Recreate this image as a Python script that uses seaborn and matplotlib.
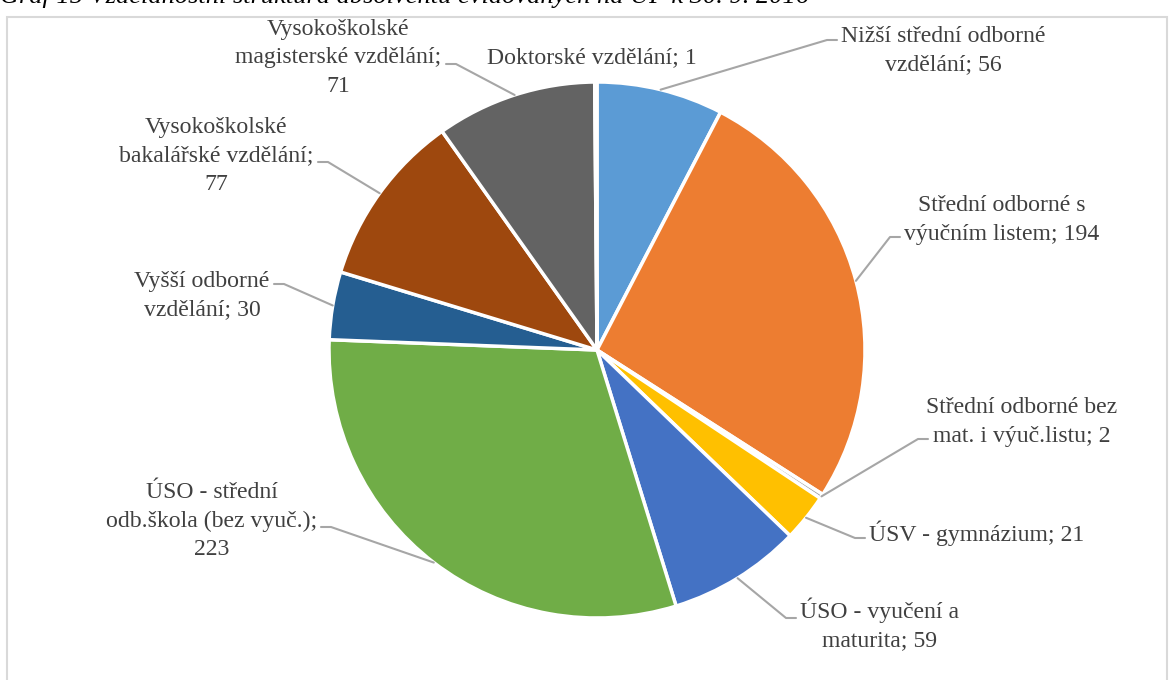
import matplotlib
matplotlib.use("Agg")
import matplotlib.pyplot as plt
import numpy as np
import seaborn as sns

# ---- data ----
categories = [
    "Nižší střední odborné\nvzdělání",
    "Střední odborné s\nvýučním listem",
    "Střední odborné bez\nmat. i výuč.listu",
    "ÚSV - gymnázium",
    "ÚSO - vyučení a\nmaturita",
    "ÚSO - střední\nodb.škola (bez vyuč.);\n",
    "Vyšší odborné\nvzdělání",
    "Vysokoškolské\nbakalářské vzdělání;\n",
    "Vysokoškolské\nmagisterské vzdělání;\n",
    "Doktorské vzdělání",
]
values = [56, 194, 2, 21, 59, 223, 30, 77, 71, 1]
colors = ["#5B9BD5", "#ED7D31", "#A5A5A5", "#FFC000", "#4472C4",
          "#70AD47", "#255E91", "#9E480E", "#636363", "#997300"]
title = "Graf 15 Vzdělanostní struktura absolventů evidovaných na ÚP k 30. 9. 2016"

# ---- layout (pixel coordinates, y from top) ----
W, H = 1169, 680
CX, CY, R = 597, 350, 268
label_pos = [(943, 51), (1002, 220), (1022, 422), (977, 533), (880, 624),
             (212, 521), (202, 296), (216, 156), (338, 58), (592, 58)]
# elbow: (x_start_horizontal, x_elbow, y)
elbows = [(837, 827, 40), (900, 890, 237), (928, 918, 439), (865, 855, 538),
          (796, 786, 618), (321, 331, 527), (274, 284, 284), (318, 328, 162),
          (446, 456, 64), None]

sns.set_theme(style="white")
plt.rcParams["font.family"] = ["Liberation Serif", "DejaVu Serif"]

fig = plt.figure(figsize=(W / 100, H / 100), dpi=100)
ax = fig.add_axes([0, 0, 1, 1])

def py(y):
    return H - y

wedges, _ = ax.pie(values, colors=colors, startangle=90, counterclock=False,
                   center=(CX, py(CY)), radius=R, frame=True,
                   wedgeprops=dict(edgecolor="white", linewidth=2.5))
ax.set_xlim(0, W)
ax.set_ylim(0, H)
ax.set_aspect("equal")
ax.axis("off")

# frame
ax.plot([7, 7, 1167, 1167], [py(700), py(17), py(17), py(700)],
        color="#D9D9D9", lw=1.5, solid_joinstyle="miter")

# title (cut at top, as in the reference)
ax.text(0, py(3), title, fontsize=19, style="italic", color="#000000",
        ha="left", va="baseline")

total = sum(values)
cum = 0
text_color = "#404040"
line_color = "#A6A6A6"
for i, (cat, v) in enumerate(zip(categories, values)):
    mid = (cum + v / 2) / total * 2 * np.pi
    cum += v
    ex = CX + R * np.sin(mid)
    ey = CY - R * np.cos(mid)
    if cat.endswith("\n"):
        txt = f"{cat}{v}"
    else:
        txt = f"{cat}; {v}"
    lx, ly = label_pos[i]
    ax.text(lx, py(ly), txt, fontsize=17.1, color=text_color, ha="center",
            va="center", linespacing=1.45, multialignment="center")
    if elbows[i] is not None:
        xs, xe, yy = elbows[i]
        ax.plot([xs, xe, ex], [py(yy), py(yy), py(ey)], color=line_color, lw=1.5)

fig.savefig("out.png", dpi=100, facecolor="white")
